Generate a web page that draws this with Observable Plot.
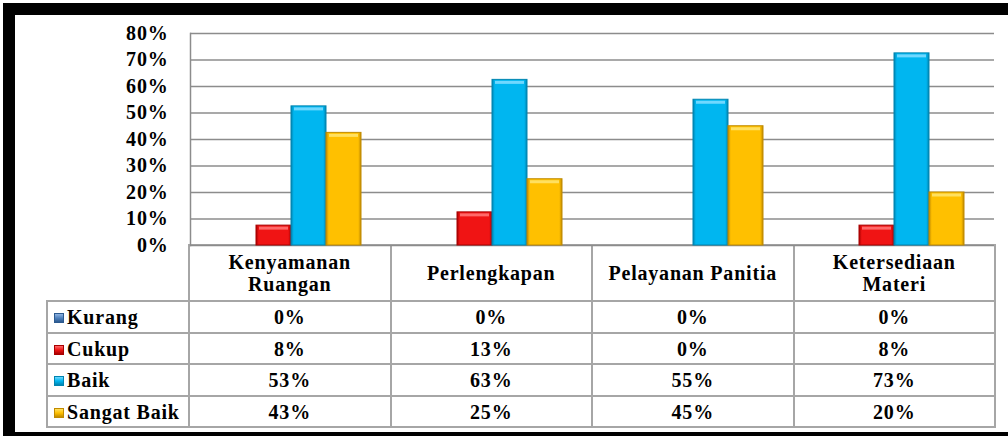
<!DOCTYPE html>
<html>
<head>
<meta charset="utf-8">
<script src="https://cdn.jsdelivr.net/npm/d3@7"></script>
<script src="https://cdn.jsdelivr.net/npm/@observablehq/plot@0.6"></script>
<style>
  html, body { margin: 0; padding: 0; background: #fff; overflow: hidden; width: 1008px; height: 436px; }
  #frame { position: absolute; left: 3px; top: 3px; width: 1040px; height: 441px; border: 12px solid #000; box-sizing: border-box; }
  #chart { position: absolute; left: 0; top: 0; z-index: 2; }
  #tbl { position: absolute; left: 46px; top: 244px; z-index: 1; border-collapse: collapse; table-layout: fixed; width: 948px;
         font-family: "Liberation Serif", serif; font-weight: bold; font-size: 20px; letter-spacing: 0.8px; color: #000; }
  #tbl td { border: 2px solid #a6a6a6; text-align: center; padding: 0 10px; line-height: 22px; }
  #tbl td.corner { border-top: none; border-left: none; }
  #tbl td.lab { text-align: left; padding-left: 6px; white-space: nowrap; }
  .key { display: inline-block; width: 8px; height: 8px; margin-right: 3px; vertical-align: 1px; border: 1px solid; }
</style>
</head>
<body>
<svg width="0" height="0" style="position:absolute">
  <defs id="defs"></defs>
</svg>
<div id="frame"></div>
<table id="tbl"></table>
<div id="chart"></div>
<script>
// ---- data ----
const categories = ["Kenyamanan Ruangan", "Perlengkapan", "Pelayanan Panitia", "Ketersediaan Materi"];
const series = ["Kurang", "Cukup", "Baik", "Sangat Baik"];
const kurang = [0, 0, 0, 0];
const cukup = [7.5, 12.5, 0, 7.5];
const baik = [52.5, 62.5, 55, 72.5];
const sangatBaik = [42.5, 25, 45, 20];
const yTicks = [0, 10, 20, 30, 40, 50, 60, 70, 80];

// ---- styles ----
const baseColors = ["#4f81bd", "#f01414", "#00b6f0", "#ffc000"];
const edgeColors = ["#2c5a8f", "#a80000", "#0084b0", "#c08a00"];
const lightColors = ["#8fb3e0", "#ff6a6a", "#6fd8ff", "#ffe060"];

const values = [kurang, cukup, baik, sangatBaik];
const data = categories.flatMap((c, i) => series.map((s, j) => ({category: c, series: s, value: values[j][i]})));

const defs = document.getElementById("defs");
series.forEach((s, j) => {
  defs.insertAdjacentHTML("beforeend",
    `<linearGradient id="grad${j}" x1="0" x2="1" y1="0" y2="0">
       <stop offset="0" stop-color="${edgeColors[j]}"/>
       <stop offset="0.08" stop-color="${baseColors[j]}"/>
       <stop offset="0.92" stop-color="${baseColors[j]}"/>
       <stop offset="1" stop-color="${edgeColors[j]}"/>
     </linearGradient>`);
});

const marks = [
  Plot.ruleY(yTicks, {stroke: "#8c8c8c", strokeWidth: 1.5}),
  ...series.map((s, j) => Plot.barY(data.filter(d => d.series === s), {
    fx: "category", x: "series", y: "value", fill: `url(#grad${j})`, stroke: edgeColors[j], strokeWidth: 1
  })),
  ...series.map((s, j) => Plot.tickY(data.filter(d => d.series === s && d.value > 0), {
    fx: "category", x: "series", y: "value", stroke: lightColors[j], strokeWidth: 3, dy: 2.5, insetLeft: 3, insetRight: 3
  })),
  Plot.axisY(yTicks, {tickSize: 0, tickPadding: 22, tickFormat: d => d + "%", fontSize: 20, fontWeight: "bold", label: null}),
  Plot.frame({anchor: "left", stroke: "#8c8c8c", strokeWidth: 1.5, facetAnchor: "left"})
];

const chart = Plot.plot({
  width: 1008, height: 258,
  marginLeft: 189, marginRight: 14, marginTop: 33, marginBottom: 13,
  fx: {domain: categories, padding: 0, axis: null},
  x: {domain: series, paddingInner: 0, paddingOuter: 0.795, axis: null},
  y: {domain: [0, 80], axis: null},
  style: {fontFamily: "'Liberation Serif', serif", fontSize: "20px", fontWeight: "bold", letterSpacing: "0.8px", color: "#000", background: "transparent"},
  marks
});
document.getElementById("chart").appendChild(chart);

// ---- data table ----
const tbl = document.getElementById("tbl");
let html = `<colgroup><col style="width:142px">${categories.map(() => `<col style="width:201.5px">`).join("")}</colgroup>`;
html += `<tr style="height:56px"><td class="corner"></td>${categories.map(c => `<td>${c}</td>`).join("")}</tr>`;
const rowH = [32, 31, 32, 31];
series.forEach((s, j) => {
  html += `<tr style="height:${rowH[j]}px"><td class="lab"><span class="key" style="background:linear-gradient(${lightColors[j]}, ${baseColors[j]} 50%, ${edgeColors[j]});border-color:${edgeColors[j]}"></span>${s}</td>`;
  html += values[j].map(v => `<td>${Math.round(v)}%</td>`).join("");
  html += `</tr>`;
});
tbl.innerHTML = html;
</script>
</body>
</html>
